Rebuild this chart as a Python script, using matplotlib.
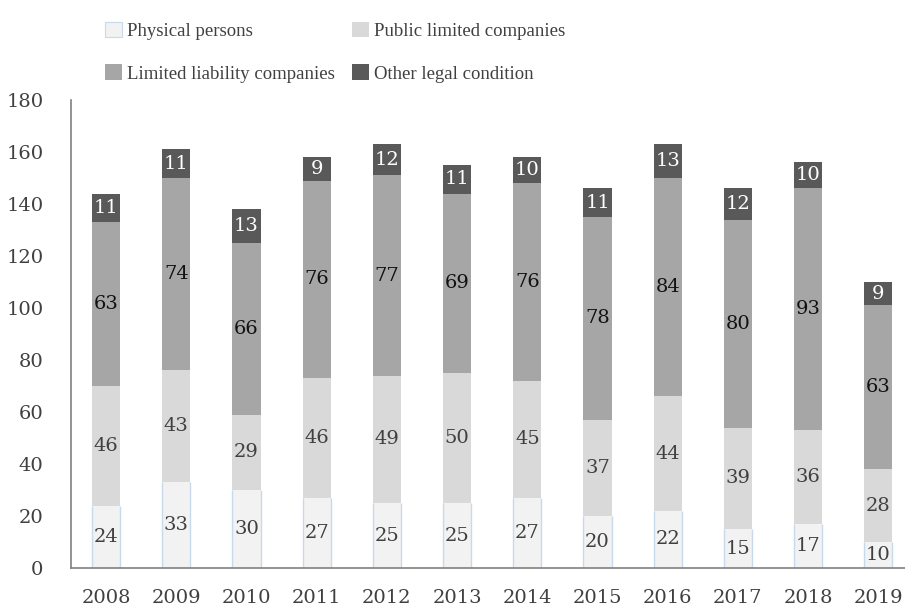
import matplotlib.pyplot as plt
from matplotlib.patches import Patch
import numpy as np

years = ['2008', '2009', '2010', '2011', '2012', '2013', '2014', '2015', '2016', '2017', '2018', '2019']
physical = [24, 33, 30, 27, 25, 25, 27, 20, 22, 15, 17, 10]
public_ltd = [46, 43, 29, 46, 49, 50, 45, 37, 44, 39, 36, 28]
limited_liab = [63, 74, 66, 76, 77, 69, 76, 78, 84, 80, 93, 63]
other = [11, 11, 13, 9, 12, 11, 10, 11, 13, 12, 10, 9]

series = [
    ('Physical persons', physical, '#F2F2F2', '#404040'),
    ('Public limited companies', public_ltd, '#D9D9D9', '#404040'),
    ('Limited liability companies', limited_liab, '#A6A6A6', '#111111'),
    ('Other legal condition', other, '#595959', 'white'),
]

serif = ['DejaVu Serif']
edge_blue = '#C9D9EC'

fig = plt.figure(figsize=(9.05, 6.09), dpi=100)
ax = fig.add_axes([0.0785, 0.0673, 0.9215, 0.7685])

x = np.arange(len(years))
width = 0.4
bottom = np.zeros(len(years))
handles = []
for name, vals, col, txtcol in series:
    vals = np.array(vals, dtype=float)
    ax.bar(x, vals, width, bottom=bottom, color=col, label=name)
    if name == 'Physical persons':
        # thin blue side edges on the lowest segment
        ax.vlines(x - width / 2, 0, vals, color=edge_blue, linewidth=1)
        ax.vlines(x + width / 2, 0, vals, color=edge_blue, linewidth=1)
        handles.append(Patch(facecolor=col, edgecolor=edge_blue, linewidth=0.8, label=name))
    else:
        handles.append(Patch(facecolor=col, label=name))
    for xi, b, v in zip(x, bottom, vals):
        ax.text(xi, b + v / 2, '%d' % v, ha='center', va='center', color=txtcol,
                fontsize=14, family=serif)
    bottom += vals

ax.set_ylim(0, 180)
ax.set_xlim(-0.5, 11.38)
ax.set_yticks(range(0, 181, 20))
ax.set_xticks(x)
ax.set_xticklabels(years)
ax.tick_params(length=0, labelsize=14, labelcolor='#404040')
ax.tick_params(axis='y', pad=20)
ax.tick_params(axis='x', pad=15)
for lab in ax.get_xticklabels() + ax.get_yticklabels():
    lab.set_family(serif)

for s in ['top', 'right']:
    ax.spines[s].set_visible(False)
for s in ['left', 'bottom']:
    ax.spines[s].set_color('#808080')
    ax.spines[s].set_linewidth(1.2)

# legend: row 1 physical/public, row 2 limited liability/other
order = [0, 2, 1, 3]
leg = fig.legend(handles=[handles[i] for i in order], loc='upper left',
                 bbox_to_anchor=(0.097, 0.992),
                 ncol=2, frameon=False, prop={'family': 'Liberation Serif', 'size': 13.5},
                 handlelength=0.9, handleheight=0.9, handletextpad=0.3,
                 columnspacing=0.9, labelspacing=1.3, labelcolor='#404040')

fig.savefig('out.png', dpi=100)
